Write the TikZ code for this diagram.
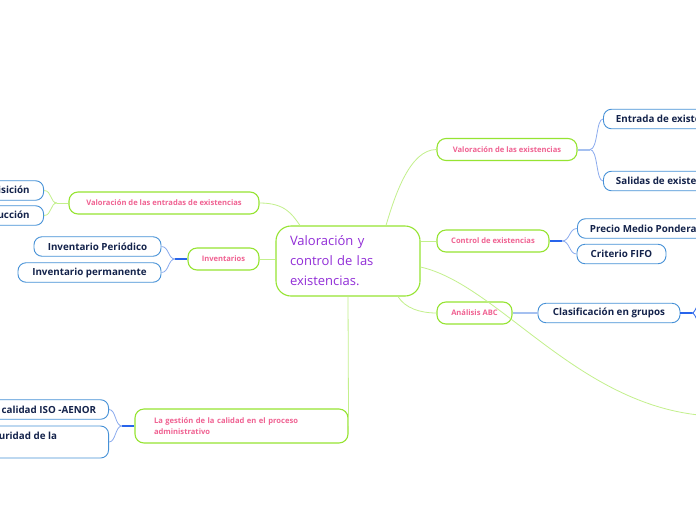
\documentclass[tikz,border=0pt]{standalone}
\usepackage{fontspec}
\setmainfont{Open Sans}
\definecolor{pinkt}{RGB}{240,98,146}
\definecolor{purplet}{RGB}{145,45,215}
\definecolor{greenb}{RGB}{150,228,50}
\definecolor{greenl}{RGB}{195,240,140}
\definecolor{blueb}{RGB}{70,145,215}
\definecolor{navyt}{RGB}{20,35,75}
\definecolor{bluel}{RGB}{165,192,240}
\definecolor{blued}{RGB}{40,100,235}
\definecolor{bluec}{RGB}{140,172,238}
\tikzset{
  central/.style={draw=greenb, line width=1.1pt, rounded corners=15pt, fill=white,
    text=purplet, font=\fontsize{13}{20}\selectfont, align=left, text width=116pt,
    inner xsep=14pt, minimum width=144pt, minimum height=70pt},
  pinkbox/.style={draw=greenb, line width=1.1pt, rounded corners=9pt, fill=white,
    text=pinkt, font=\fontsize{7.6}{11}\selectfont\bfseries, minimum height=22pt, inner xsep=0pt},
  navybox/.style={draw=blueb, line width=0.9pt, rounded corners=8pt, fill=white,
    text=navyt, font=\fontsize{9.8}{12}\selectfont\bfseries, minimum height=19.5pt, inner xsep=12.5pt},
  gline/.style={draw=greenl, line width=0.8pt},
  bthin/.style={draw=bluec, line width=0.8pt},
  bstubl/.style={draw=bluel, line width=2pt},
  bstubd/.style={draw=blued, line width=2pt},
}
\begin{document}
\begin{tikzpicture}[x=1pt,y=-1pt]
\clip (0,0) rectangle (696,520);
\fill[white] (0,0) rectangle (696,520);

% central
\node[central] (c) at (348,261) {Valoración y\\control de las\\existencias.};

% first-level nodes
\node[pinkbox, minimum width=140pt] (vex) at (507,149.5) {Valoración de las existencias};
\node[pinkbox, minimum width=112pt] (ctrl) at (493,241) {Control de existencias};
\node[pinkbox, minimum width=75pt] (abc) at (474.5,313) {Análisis ABC};
\node[pinkbox, minimum width=71pt] (inv) at (223.5,259) {Inventarios};
\node[pinkbox, minimum width=190pt] (ent) at (164,203) {Valoración de las entradas de existencias};
\node[pinkbox, minimum width=213pt, minimum height=34pt, align=left, text width=175pt,
  inner xsep=19pt] (gest) at (241.5,426)
  {La gestión de la calidad en el proceso\\administrativo};

% second-level nodes
\node[navybox, anchor=west] (entr) at (603,119) {Entrada de existencias};
\node[navybox, anchor=west] (sal) at (603,181) {Salidas de existencias};
\node[navybox, anchor=west] (pmp) at (577,228.5) {Precio Medio Ponderado};
\node[navybox, minimum width=89pt] (fifo) at (621.5,254) {Criterio FIFO};
\node[navybox, minimum width=142pt] (clas) at (609,313) {Clasificación en grupos};
\node[navybox, inner xsep=14pt, anchor=east] (adq) at (44,190.5) {Precio de adquisición};
\node[navybox, inner xsep=14pt, anchor=east] (prod) at (44,215.5) {Coste de producción};
\node[navybox, minimum width=127pt] (iper) at (97.5,246.5) {Inventario Periódico};
\node[navybox, minimum width=143pt] (iperm) at (89.5,272.5) {Inventario permanente};
\node[navybox, anchor=east] (iso) at (109,409.5) {Normas de calidad ISO -AENOR};
\node[navybox, anchor=east, align=left, minimum height=32pt] (seg) at (109,442)
  {Gestión de la seguridad de la\rule{39pt}{0pt}\\información};

% coordinates
\coordinate (bvex) at (590,149.5);
\coordinate (bctrl) at (562,241);
\coordinate (bclas) at (692,313);
\coordinate (oup) at (706,296);
\coordinate (odn) at (706,331);
\coordinate (ofar) at (712,416);
\coordinate (bent) at (57,203);
\coordinate (binv) at (175,259);
\coordinate (bgest) at (122,426);

% central connectors
\draw[gline] ([xshift=38pt]c.north) .. controls (395,195) and (410,149.5) .. (vex.west);
\draw[gline] (c.east |- ctrl.west) -- (ctrl.west);
\draw[gline] ([xshift=50pt]c.south) .. controls (405,308) and (420,313) .. (abc.west);
\draw[gline] ([yshift=-6pt]c.east) .. controls (500,285) and (580,410) .. (ofar);
\draw[gline] (c.south) -- (gest.east);
\draw[gline] (c.west |- inv.east) -- (inv.east);
\draw[gline] (ent.east) .. controls (285,203) and (292,214) .. ([xshift=-48pt]c.north);

% valoracion existencias
\draw[bstubl] (vex.east) -- (bvex);
\draw[bthin] (bvex) .. controls (598,149.5) and (596,119) .. (entr.west);
\draw[bthin] (bvex) .. controls (598,149.5) and (596,181) .. (sal.west);

% control
\draw[bstubd] (ctrl.east) -- (bctrl);
\draw[bthin] (bctrl) .. controls (570,241) and (569,228.5) .. (pmp.west);
\draw[bthin] (bctrl) .. controls (570,241) and (569,254) .. (fifo.west);

% ABC
\draw[bstubl] (abc.east) -- (clas.west);
\draw[bstubd] (clas.east) -- (bclas);
\draw[bthin, draw=blued] (bclas) .. controls (696,313) and (697,300) .. (oup);
\draw[bthin, draw=blued] (bclas) .. controls (696,313) and (697,326) .. (odn);

% entradas
\draw[gline] (ent.west) -- (bent);
\draw[gline] (bent) .. controls (50,203) and (52,190.5) .. (adq.east);
\draw[gline] (bent) .. controls (50,203) and (52,215.5) .. (prod.east);

% inventarios
\draw[bstubd] (inv.west) -- (binv);
\draw[bthin] (binv) .. controls (168,259) and (169,246.5) .. (iper.east);
\draw[bthin] (binv) .. controls (168,259) and (169,272.5) .. (iperm.east);

% gestion
\draw[bstubd] (gest.west) -- (bgest);
\draw[bthin] (bgest) .. controls (115,426) and (116,409.5) .. (iso.east);
\draw[bthin] (bgest) .. controls (115,426) and (116,442) .. (seg.east);
\end{tikzpicture}
\end{document}
